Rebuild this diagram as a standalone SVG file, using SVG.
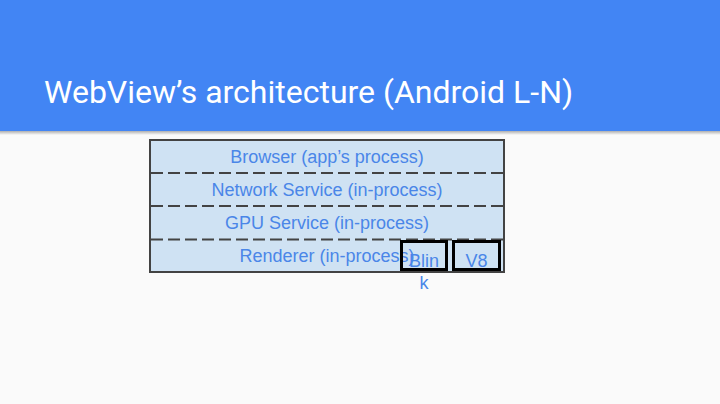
<svg xmlns="http://www.w3.org/2000/svg" width="720" height="404" viewBox="0 0 720 404">
<defs>
<linearGradient id="sh" x1="0" y1="0" x2="0" y2="1">
<stop offset="0" stop-color="#000" stop-opacity="0.3"/>
<stop offset="1" stop-color="#000" stop-opacity="0"/>
</linearGradient>
</defs>
<style>
.lbl{font-family:"Liberation Sans",Arial,sans-serif;font-size:18px;fill:#4a86e8;text-anchor:middle}
.dash{stroke:#434343;stroke-width:2;stroke-dasharray:12,5;fill:none}
.inner{fill:none;stroke:#000;stroke-width:3}
</style>
<rect x="0" y="0" width="720" height="404" fill="#fafafa"/>
<rect x="0" y="0" width="720" height="131" fill="#4285f4"/>
<rect x="0" y="131" width="720" height="4" fill="url(#sh)"/>
<text x="44" y="103" font-family="Roboto,sans-serif" font-size="32" fill="#ffffff">WebView’s architecture (Android L-N)</text>
<g id="stack">
<rect x="150" y="140" width="354" height="132" fill="#cfe2f3" stroke="#434343" stroke-width="2"/>
</g>
<g id="connectors">
<line class="dash" x1="151" y1="173" x2="503" y2="173"/>
<line class="dash" x1="151" y1="206" x2="503" y2="206"/>
<line class="dash" x1="151" y1="239.5" x2="503" y2="239.5"/>
</g>
<g id="browser"><text class="lbl" x="327" y="163">Browser (app’s process)</text></g>
<g id="network"><text class="lbl" x="327" y="196">Network Service (in-process)</text></g>
<g id="gpu"><text class="lbl" x="327" y="229">GPU Service (in-process)</text></g>
<g id="renderer"><text class="lbl" x="327" y="262">Renderer (in-process)</text></g>
<g id="blink">
<rect class="inner" x="401.5" y="241.5" width="45" height="28"/>
<text class="lbl" x="424" y="267">Blin</text>
<text class="lbl" x="424" y="289">k</text>
</g>
<g id="v8">
<rect class="inner" x="453.5" y="241.5" width="46" height="28"/>
<text class="lbl" x="476.5" y="267">V8</text>
</g>
</svg>
